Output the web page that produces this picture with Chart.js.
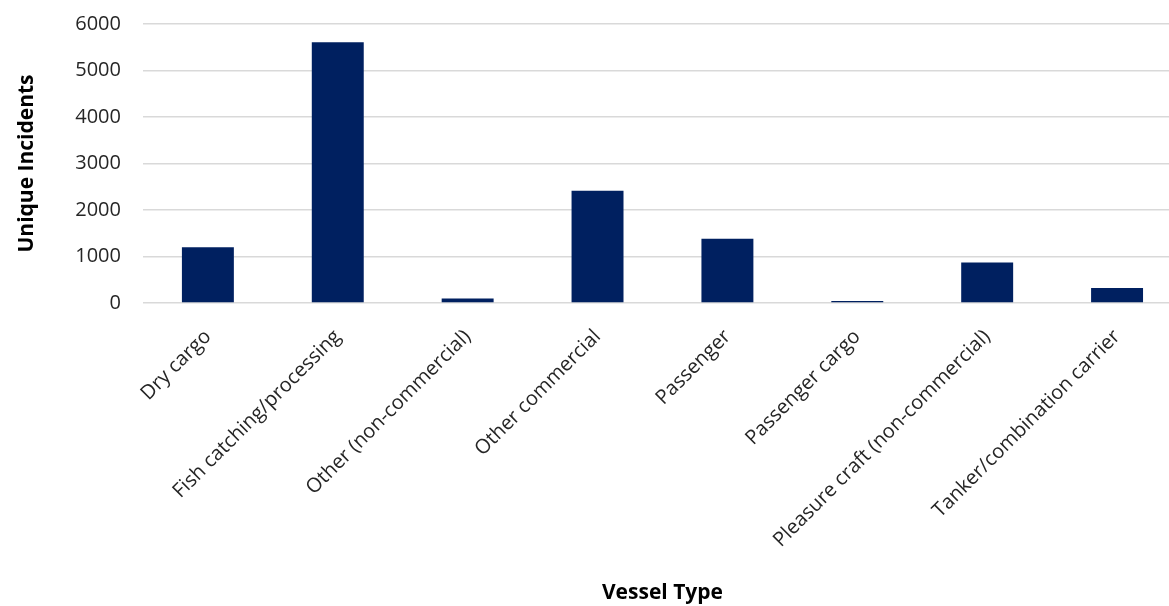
<!DOCTYPE html>
<html>
<head>
<meta charset="utf-8">
<script src="https://cdn.jsdelivr.net/npm/chart.js@4"></script>
<style>
  html, body { margin: 0; padding: 0; background: #fff; overflow: hidden; }
  #wrap { width: 1182px; height: 606px; }
</style>
</head>
<body>
<div id="wrap"><canvas id="vessels"></canvas></div>
<script>
// vessel types along the x axis
var vesselTypes = [
  'Dry cargo',
  'Fish catching/processing',
  'Other (non-commercial)',
  'Other commercial',
  'Passenger',
  'Passenger cargo',
  'Pleasure craft (non-commercial)',
  'Tanker/combination carrier'
];
// unique incidents per vessel type
var incidents = [1200, 5610, 95, 2415, 1380, 45, 870, 320];
var yTicks = [0, 1000, 2000, 3000, 4000, 5000, 6000];

var ctx = document.getElementById('vessels').getContext('2d');
var chart = new Chart(ctx, {
  type: 'bar',
  data: {
    labels: vesselTypes,
    datasets: [{
      data: incidents,
      backgroundColor: '#002060',
      borderWidth: 0,
      barPercentage: 0.4,
      categoryPercentage: 1.0
    }]
  },
  options: {
    responsive: true,
    maintainAspectRatio: false,
    animation: false,
    // no top padding here: it would also cap the x axis height
    layout: { padding: { left: 14, top: 0, right: 0, bottom: 0 } },
    plugins: {
      legend: { display: false },
      tooltip: { enabled: false }
    },
    scales: {
      x: {
        grid: { display: false },
        border: { display: false },
        ticks: {
          color: '#262626',
          font: { family: 'Open Sans', size: 20 },
          minRotation: 45,
          maxRotation: 45,
          autoSkip: false,
          padding: 14
        },
        title: {
          display: true,
          text: 'Vessel Type',
          color: '#000',
          font: { family: 'Open Sans', size: 21, weight: 'bold' },
          padding: { top: 18, bottom: 0 }
        }
      },
      y: {
        min: 0,
        max: 6000,
        afterBuildTicks: function (axis) {
          axis.ticks = yTicks.map(function (v) { return { value: v }; });
        },
        // the space above the 6000 line
        afterFit: function (axis) {
          axis.paddingTop = 24;
        },
        grid: { color: '#d9d9d9', lineWidth: 1.5, drawTicks: false },
        border: { display: false },
        ticks: {
          color: '#262626',
          font: { family: 'Open Sans', size: 20 },
          padding: 22,
          callback: function (v) { return String(v); }
        },
        title: {
          display: true,
          text: 'Unique Incidents',
          color: '#000',
          font: { family: 'Open Sans', size: 21, weight: 'bold' },
          padding: { top: 0, bottom: 14 }
        }
      }
    }
  }
});
</script>
</body>
</html>
